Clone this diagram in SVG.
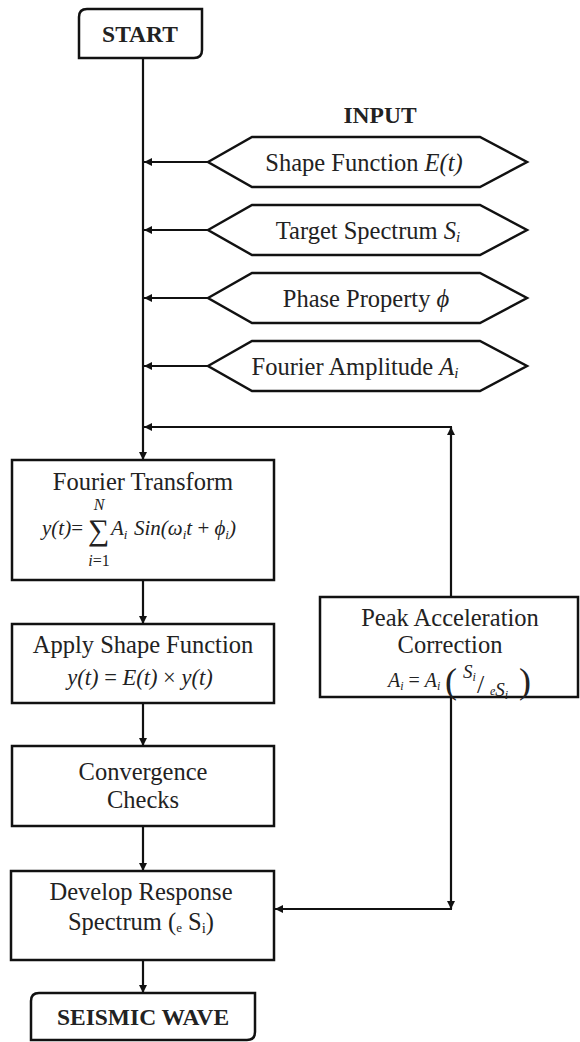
<svg xmlns="http://www.w3.org/2000/svg" width="580" height="1042" viewBox="0 0 580 1042">
<style>
.bg{fill:#fff}
.box{fill:#fff;stroke:#111;stroke-width:2.5}
.ln{fill:none;stroke:#111;stroke-width:2.2}
.t{font-family:"Liberation Serif","Times New Roman",serif;font-size:24.5px;fill:#222;text-anchor:middle}
.b{font-weight:bold;font-size:23.5px}
.i{font-style:italic}
.m{font-family:"Liberation Serif","Times New Roman",serif;fill:#222;font-style:italic}
.u{font-style:normal}
</style>
<defs>
<marker id="ah" viewBox="0 0 10 10" refX="10" refY="5" markerWidth="9" markerHeight="8" markerUnits="userSpaceOnUse" orient="auto">
<path d="M0,0 L10,5 L0,10 Z" fill="#111"/>
</marker>
</defs>
<rect class="bg" x="0" y="0" width="580" height="1042"/>

<g id="connectors">
<line class="ln" x1="143" y1="58" x2="143" y2="460" marker-end="url(#ah)"/>
<line class="ln" x1="208" y1="162" x2="144" y2="162" marker-end="url(#ah)"/>
<line class="ln" x1="208" y1="230" x2="144" y2="230" marker-end="url(#ah)"/>
<line class="ln" x1="208" y1="298" x2="144" y2="298" marker-end="url(#ah)"/>
<line class="ln" x1="208" y1="366" x2="144" y2="366" marker-end="url(#ah)"/>
<line class="ln" x1="451" y1="597" x2="451" y2="427" marker-end="url(#ah)"/>
<line class="ln" x1="452" y1="427" x2="144" y2="427" marker-end="url(#ah)"/>
<line class="ln" x1="451" y1="697" x2="451" y2="909" marker-end="url(#ah)"/>
<line class="ln" x1="452" y1="909" x2="275" y2="909" marker-end="url(#ah)"/>
<line class="ln" x1="143" y1="580" x2="143" y2="624" marker-end="url(#ah)"/>
<line class="ln" x1="143" y1="703" x2="143" y2="746" marker-end="url(#ah)"/>
<line class="ln" x1="143" y1="826" x2="143" y2="871" marker-end="url(#ah)"/>
<line class="ln" x1="143" y1="960" x2="143" y2="993" marker-end="url(#ah)"/>
</g>

<g id="start">
<path class="box" d="M87,9 H202 V50 Q202,58 194,58 H79 V17 Q79,9 87,9 Z"/>
<text class="t b" x="140" y="42">START</text>
</g>

<g id="input-label">
<text class="t b" x="380" y="123">INPUT</text>
</g>

<g id="in-shape">
<polygon class="box" points="208,162 252,137 480,137 527,162 480,187 252,187"/>
<text class="t" x="364" y="171">Shape Function <tspan class="i">E(t)</tspan></text>
</g>
<g id="in-target">
<polygon class="box" points="208,230 252,205 480,205 527,230 480,255 252,255"/>
<text class="t" x="368" y="239">Target Spectrum <tspan class="i">S</tspan><tspan class="i" style="font-size:15px" dy="3">i</tspan></text>
</g>
<g id="in-phase">
<polygon class="box" points="208,298 252,273 480,273 527,298 480,323 252,323"/>
<text class="t" x="366" y="307">Phase Property <tspan class="i">ϕ</tspan></text>
</g>
<g id="in-amp">
<polygon class="box" points="208,366 252,341 480,341 527,366 480,391 252,391"/>
<text class="t" x="355" y="375">Fourier Amplitude <tspan class="i">A</tspan><tspan class="i" style="font-size:15px" dy="3">i</tspan></text>
</g>

<g id="fourier">
<rect class="box" x="12" y="460" width="262" height="120"/>
<text class="t" x="143" y="490">Fourier Transform</text>
<text class="m" x="99" y="510" text-anchor="middle" style="font-size:16px">N</text>
<text class="m" x="42" y="535" style="font-size:21px">y(t)<tspan class="u">=</tspan></text>
<text class="m u" x="88" y="540" style="font-size:30px">∑</text>
<text class="m" x="111" y="535" style="font-size:21px">A<tspan style="font-size:13px" dy="4">i</tspan></text>
<text class="m" x="134" y="535" style="font-size:21px">Sin(ω<tspan style="font-size:13px" dy="4">i</tspan><tspan dy="-4">t </tspan><tspan class="u">+</tspan> ϕ<tspan style="font-size:13px" dy="4">i</tspan><tspan dy="-4">)</tspan></text>
<text class="m" x="99" y="566" text-anchor="middle" style="font-size:16px">i<tspan class="u">=1</tspan></text>
</g>

<g id="apply">
<rect class="box" x="12" y="624" width="262" height="79"/>
<text class="t" x="143" y="653">Apply Shape Function</text>
<text class="m" x="140" y="685" text-anchor="middle" style="font-size:22.5px">y(t) <tspan class="u">=</tspan> E(t) <tspan class="u">×</tspan> y(t)</text>
</g>

<g id="converge">
<rect class="box" x="12" y="746" width="262" height="80"/>
<text class="t" x="143" y="780">Convergence</text>
<text class="t" x="143" y="808">Checks</text>
</g>

<g id="develop">
<rect class="box" x="11" y="871" width="263" height="89"/>
<text class="t" x="141" y="900">Develop Response</text>
<text class="t" x="141" y="930">Spectrum (<tspan style="font-size:13px" dy="2">e</tspan><tspan dy="-2"> S</tspan><tspan style="font-size:15px" dy="3">i</tspan><tspan dy="-3">)</tspan></text>
</g>

<g id="peak">
<rect class="box" x="320" y="597" width="258" height="100"/>
<text class="t" x="450" y="626">Peak Acceleration</text>
<text class="t" x="450" y="653">Correction</text>
<text class="m" x="388" y="687" style="font-size:20px">A<tspan style="font-size:12px" dy="3">i</tspan><tspan class="u" dy="-3"> = </tspan>A<tspan style="font-size:12px" dy="3">i</tspan></text>
<text class="m u" x="445" y="693" style="font-size:36px">(</text>
<text class="m" x="463" y="678" style="font-size:19px">S<tspan style="font-size:12px" dy="3">i</tspan></text>
<text class="m u" x="477" y="693" style="font-size:26px">/</text>
<text class="m" x="490" y="695" style="font-size:12px">e<tspan style="font-size:19px" dy="1">S</tspan><tspan style="font-size:12px" dy="3">i</tspan></text>
<text class="m u" x="519" y="693" style="font-size:36px">)</text>
</g>

<g id="seismic">
<path class="box" d="M39,993 H255 V1032 Q255,1040 247,1040 H31 V1001 Q31,993 39,993 Z"/>
<text class="t b" x="143" y="1025">SEISMIC WAVE</text>
</g>
</svg>
